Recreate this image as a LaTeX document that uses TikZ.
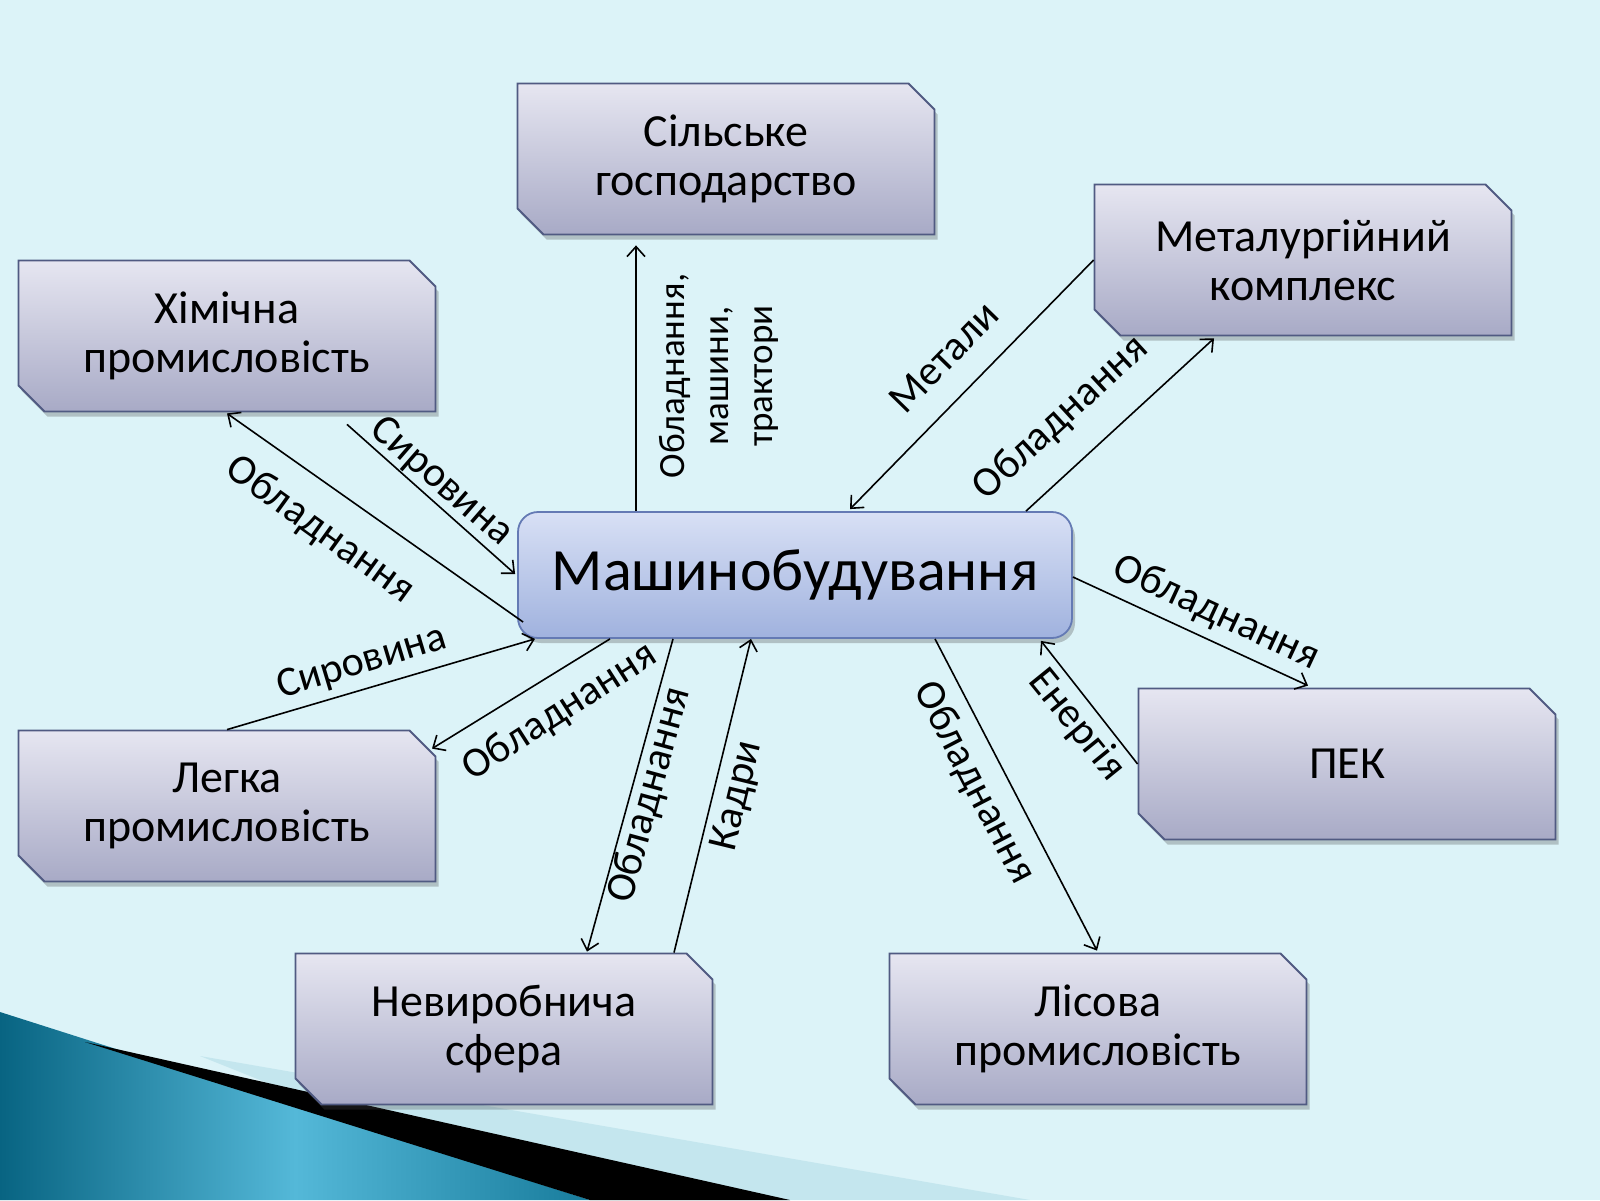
\documentclass[tikz,border=0pt]{standalone}
\usepackage{fontspec}
\setmainfont{Carlito}
\usetikzlibrary{shapes.misc,arrows.meta,shadows,calc}
\definecolor{bg}{RGB}{220,243,248}
\definecolor{boxtop}{RGB}{230,230,241}
\definecolor{boxbot}{RGB}{168,170,198}
\definecolor{boxline}{RGB}{80,90,130}
\definecolor{maintop}{RGB}{216,224,245}
\definecolor{mainbot}{RGB}{160,178,222}
\definecolor{mainline}{RGB}{100,122,180}
\definecolor{tealA}{RGB}{8,100,130}
\definecolor{tealB}{RGB}{84,184,216}
\definecolor{tealC}{RGB}{24,124,156}
\definecolor{paleband}{RGB}{196,230,238}
\begin{document}
\begin{tikzpicture}[x=1pt,y=-1pt,
  sbox/.style={chamfered rectangle, chamfered rectangle corners={north east,south west},
    chamfered rectangle xsep=13pt, chamfered rectangle ysep=13pt,
    draw=boxline, line width=1.8pt, top color=boxtop, bottom color=boxbot,
    minimum width=417pt, minimum height=151pt, inner sep=0pt, align=center,
    font=\fontsize{46}{49}\selectfont,
    drop shadow={shadow xshift=3pt, shadow yshift=-5pt, opacity=0.3, fill=black!70}},
  mbox/.style={rectangle, rounded corners=20pt, draw=mainline, line width=1.8pt,
    top color=maintop, bottom color=mainbot, minimum width=554pt, minimum height=126pt,
    inner sep=0pt, font=\fontsize{60}{64}\selectfont,
    drop shadow={shadow xshift=3pt, shadow yshift=-5pt, opacity=0.3, fill=black!70}},
  conn/.style={line width=1.6pt, -{Straight Barb[length=10pt,width=18pt,line width=1.6pt]}},
  lbl/.style={font=\fontsize{42}{46}\selectfont, inner sep=0pt},
  lbls/.style={font=\fontsize{37}{44}\selectfont, inner sep=0pt, align=center}
]
\useasboundingbox (0,0) rectangle (1600,1200);
\fill[bg] (0,0) rectangle (1600,1200);

% bottom-left decoration
\fill[paleband] (200,1056) -- (1030,1200) -- (560,1200) -- cycle;
\shade[left color=tealA, right color=tealC, middle color=tealB] (0,1012) -- (590,1200) -- (0,1200) -- cycle;
\fill[black] (85,1042) -- (790,1200) -- (590,1200) -- cycle;

% nodes
\node[mbox] (main) at (795,575) {Машинобудування};
\node[sbox] (sil) at (726,159) {Сільське\\господарство};
\node[sbox] (khim) at (227,336) {Хімічна\\промисловість};
\node[sbox] (met) at (1303,260) {Металургійний\\комплекс};
\node[sbox] (legka) at (227,806) {Легка\\промисловість};
\node[sbox] (pek) at (1347,764) {ПЕК};
\node[sbox] (nev) at (504,1029) {Невиробнича\\сфера};
\node[sbox] (lis) at (1098,1029) {Лісова\\промисловість};

% connectors
\draw[conn] ([xshift=-159pt]main.north) -- ([xshift=-90pt,yshift=-10pt]sil.south);
\draw[conn] (met.west) -- ([xshift=55pt,yshift=2pt]main.north);
\draw[conn] ([xshift=231pt]main.north) -- ([xshift=-89pt,yshift=-2pt]met.south);
\draw[conn] ([xshift=6pt,yshift=-47pt]main.west) -- ([yshift=-1pt]khim.south);
\draw[conn] ([xshift=120pt,yshift=-12pt]khim.south) -- ([xshift=-2pt,yshift=1pt]main.west);
\draw[conn] (legka.north) -- ([xshift=-260pt]main.south);
\draw[conn] ([xshift=-185pt]main.south) -- ([xshift=205pt,yshift=-19pt]legka.north);
\draw[conn] ([xshift=-122pt]main.south) -- ([xshift=83pt,yshift=1pt]nev.north);
\draw[conn] ([xshift=170pt]nev.north) -- ([xshift=-44pt]main.south);
\draw[conn] ([xshift=140pt]main.south) -- ([xshift=-1pt,yshift=2pt]lis.north);
\draw[conn] (pek.west) -- ([xshift=246pt,yshift=-2pt]main.south);
\draw[conn] ([yshift=-2pt]main.east) -- ([xshift=-39pt,yshift=2pt]pek.north);

% labels
\node[lbls, rotate=90] (lbA) at (719,376) {Обладнання,\\машини,\\трактори};
\node[lbl, rotate=45.7] (lbB) at (944,357) {Метали};
\node[lbl, rotate=42.6] (lbC) at (1061,418) {Обладнання};
\node[lbl, rotate=-35.8] (lbD) at (320,530) {Обладнання};
\node[lbl, rotate=-41] (lbE) at (441,482) {Сировина};
\node[lbl, rotate=16.8] (lbF) at (362,663) {Сировина};
\node[lbl, rotate=32.7] (lbG) at (560,712) {Обладнання};
\node[lbl, rotate=74.7] (lbH) at (650,795) {Обладнання};
\node[lbl, rotate=76.3] (lbI) at (738,796) {Кадри};
\node[lbl, rotate=-62.6] (lbJ) at (974,783) {Обладнання};
\node[lbl, rotate=-51] (lbK) at (1077,725) {Енергія};
\node[lbl, rotate=-24.9] (lbL) at (1216,613) {Обладнання};
\end{tikzpicture}
\end{document}
